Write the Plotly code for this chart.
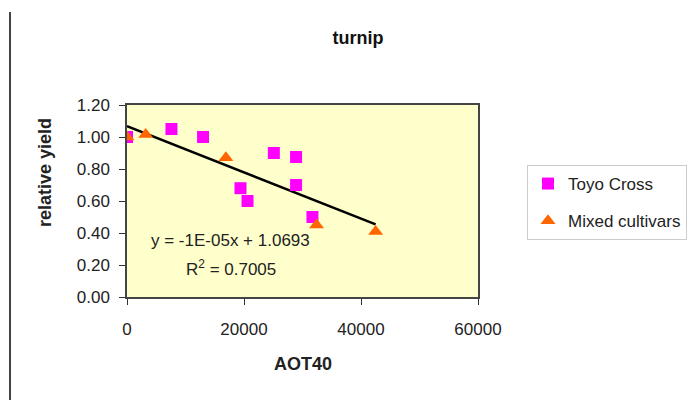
import numpy as np
import plotly.graph_objects as go

# Data
toyo_x = [0, 7600, 13000, 25100, 28900, 28900, 19400, 20600, 31700]
toyo_y = [1.00, 1.05, 1.00, 0.90, 0.875, 0.70, 0.68, 0.60, 0.50]
mixed_x = [0, 3200, 16900, 32400, 42500]
mixed_y = [1.00, 1.015, 0.87, 0.45, 0.41]

x_ticks = [0, 20000, 40000, 60000]
y_ticks = [0.0, 0.2, 0.4, 0.6, 0.8, 1.0, 1.2]

all_x = np.array(toyo_x + mixed_x, dtype=float)
all_y = np.array(toyo_y + mixed_y, dtype=float)
slope, intercept = np.polyfit(all_x, all_y, 1)
trend_x = np.array([all_x.min(), all_x.max()])
trend_y = slope * trend_x + intercept

FONT = "Liberation Sans, Arial, sans-serif"
TXT = "#222222"

# plot area in pixels (screen)
PL, PR, PT, PB = 127, 478, 105, 297
PW, PH = PR - PL, PB - PT


def px(x):
    return (x - PL) / PW


def py(y):
    return (PB - y) / PH


fig = go.Figure()
fig.add_trace(go.Scatter(
    x=trend_x, y=trend_y, mode="lines",
    line=dict(color="black", width=2.5), showlegend=False, hoverinfo="skip"))
fig.add_trace(go.Scatter(
    x=toyo_x, y=toyo_y, mode="markers", name="Toyo Cross", legendgroup="a",
    marker=dict(symbol="square", size=12, color="#FF00FF")))
fig.add_trace(go.Scatter(
    x=mixed_x, y=mixed_y, mode="markers", name="Mixed cultivars", legendgroup="b",
    marker=dict(symbol="triangle-up", size=13, color="#FF6600")))

axis_common = dict(
    showgrid=False, zeroline=False, showline=True, linecolor="#444444",
    linewidth=1.5, mirror=True, ticks="outside", ticklen=6, tickwidth=1,
    tickcolor="#333333", tickfont=dict(family=FONT, size=17, color=TXT),
)

fig.update_xaxes(range=[0, 60000], tickvals=x_ticks,
                 ticktext=[str(v) for v in x_ticks], ticklabelstandoff=10,
                 **axis_common)
fig.update_yaxes(range=[0, 1.2], tickvals=y_ticks,
                 ticktext=[f"{v:.2f}" for v in y_ticks], ticklabelstandoff=6,
                 **axis_common)

fig.update_layout(
    width=700, height=400,
    margin=dict(l=PL, r=700 - PR, t=PT, b=400 - PB),
    paper_bgcolor="white", plot_bgcolor="#FFFFCC",
    font=dict(family=FONT, color=TXT),
    title=dict(text="<b>turnip</b>", x=358 / 700, xref="container", y=1 - 38 / 400, yref="container",
               xanchor="center", yanchor="middle", font=dict(family=FONT, size=18, color="#111111")),
    legend=dict(x=px(527), y=py(165), xanchor="left", yanchor="top",
                bordercolor="#CCCCCC", borderwidth=1, bgcolor="white",
                font=dict(family=FONT, size=17, color=TXT),
                traceorder="grouped", tracegroupgap=12),
    showlegend=True,
)

# axis titles
fig.add_annotation(text="<b>AOT40</b>", xref="paper", yref="paper",
                   x=px(302.5), y=py(364), xanchor="center", yanchor="middle",
                   showarrow=False, font=dict(family=FONT, size=18, color=TXT))
fig.add_annotation(text="<b>relative yield</b>", xref="paper", yref="paper",
                   x=px(45), y=py(173), xanchor="center", yanchor="middle", textangle=-90,
                   showarrow=False, font=dict(family=FONT, size=18, color=TXT))

# trendline labels
fig.add_annotation(text="y = -1E-05x + 1.0693", xref="paper", yref="paper",
                   x=px(230), y=py(240), xanchor="center", yanchor="middle", showarrow=False,
                   font=dict(family=FONT, size=17, color=TXT))
fig.add_annotation(text="R<sup>2</sup> = 0.7005", xref="paper", yref="paper",
                   x=px(230.5), y=py(268), xanchor="center", yanchor="middle", showarrow=False,
                   font=dict(family=FONT, size=17, color=TXT))

# Left border line of the original page
fig.add_shape(type="line", xref="paper", yref="paper",
              x0=px(10), x1=px(10), y0=py(12), y1=py(400),
              line=dict(color="#444444", width=2))

fig.write_html("out.html", config={"displayModeBar": False},
               post_script="document.body.style.margin='0';")
